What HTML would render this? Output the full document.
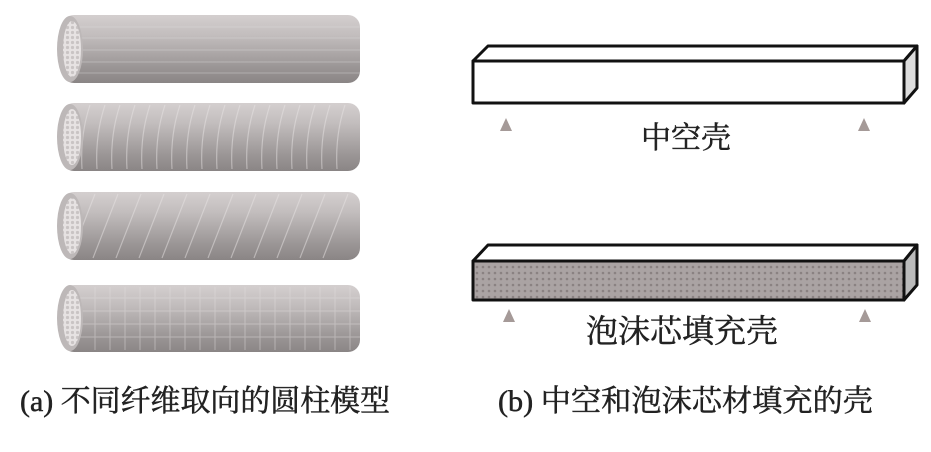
<!DOCTYPE html>
<html><head><meta charset="utf-8"><style>
body{margin:0;background:#fff;width:931px;height:452px;overflow:hidden}
svg{display:block}
text{font-family:"Liberation Serif","Noto Serif CJK SC",serif;fill:#222;font-weight:normal;stroke:#222;stroke-width:0.5}
</style></head><body>
<svg width="931" height="452" viewBox="0 0 931 452" xmlns="http://www.w3.org/2000/svg">
<defs>
<linearGradient id="cg" x1="0" y1="0" x2="0" y2="1">
<stop offset="0" stop-color="#d4cfcf"/><stop offset="0.3" stop-color="#c2bdbd"/><stop offset="0.75" stop-color="#9c9797"/><stop offset="1" stop-color="#8a8585"/>
</linearGradient>
<pattern id="dots" width="6" height="6" patternUnits="userSpaceOnUse">
<rect width="6" height="6" fill="#aaa3a3"/><circle cx="3" cy="3" r="1.3" fill="#8a8282"/>
</pattern>
<pattern id="end" width="5" height="5" patternUnits="userSpaceOnUse">
<rect width="5" height="5" fill="#e6e2e2"/><circle cx="2.5" cy="2.5" r="1.6" fill="#c9c4c4"/>
</pattern>
</defs>
<g>
<rect x="62" y="15" width="298" height="68" rx="12" fill="url(#cg)"/>
<g stroke="#ddd" stroke-width="1" opacity="0.4"><line x1="75" y1="27" x2="360" y2="27"/><line x1="75" y1="38" x2="360" y2="38"/><line x1="75" y1="50" x2="360" y2="50"/><line x1="75" y1="62" x2="360" y2="62"/><line x1="75" y1="73" x2="360" y2="73"/></g>
<ellipse cx="70" cy="49" rx="13" ry="33" fill="#bdb8b8"/><ellipse cx="72" cy="49" rx="9" ry="28" fill="url(#end)"/>
</g>
<g>
<rect x="62" y="103" width="298" height="68" rx="12" fill="url(#cg)"/>
<g stroke="#e8e4e4" stroke-width="1.2" fill="none" opacity="0.5">
<path d="M90 105 q-10 30 -8 64M105 105 q-10 30 -8 64M120 105 q-10 30 -8 64M135 105 q-10 30 -8 64M150 105 q-10 30 -8 64M165 105 q-10 30 -8 64M180 105 q-10 30 -8 64M195 105 q-10 30 -8 64M210 105 q-10 30 -8 64M225 105 q-10 30 -8 64M240 105 q-10 30 -8 64M255 105 q-10 30 -8 64M270 105 q-10 30 -8 64M285 105 q-10 30 -8 64M300 105 q-10 30 -8 64M315 105 q-10 30 -8 64M330 105 q-10 30 -8 64M345 105 q-10 30 -8 64"/></g>
<ellipse cx="70" cy="137" rx="13" ry="33" fill="#bdb8b8"/><ellipse cx="72" cy="137" rx="9" ry="28" fill="url(#end)"/>
</g>
<g>
<rect x="62" y="192" width="298" height="68" rx="12" fill="url(#cg)"/>
<g stroke="#e8e4e4" stroke-width="1.2" fill="none" opacity="0.5">
<path d="M95 194 l-25 64M118 194 l-25 64M141 194 l-25 64M164 194 l-25 64M187 194 l-25 64M210 194 l-25 64M233 194 l-25 64M256 194 l-25 64M279 194 l-25 64M302 194 l-25 64M325 194 l-25 64M348 194 l-25 64"/></g>
<ellipse cx="70" cy="226" rx="13" ry="33" fill="#bdb8b8"/><ellipse cx="72" cy="226" rx="9" ry="28" fill="url(#end)"/>
</g>
<g>
<rect x="62" y="285" width="298" height="67" rx="12" fill="url(#cg)"/>
<g stroke="#e2dede" stroke-width="1" fill="none" opacity="0.45">
<path d="M75 298 H360M75 311 H360M75 324 H360M75 337 H360"/>
<path d="M95 287v63M110 287v63M125 287v63M140 287v63M155 287v63M170 287v63M185 287v63M200 287v63M215 287v63M230 287v63M245 287v63M260 287v63M275 287v63M290 287v63M305 287v63M320 287v63M335 287v63M350 287v63"/></g>
<ellipse cx="70" cy="318" rx="13" ry="33" fill="#bdb8b8"/><ellipse cx="72" cy="318" rx="9" ry="28" fill="url(#end)"/>
</g>
<g stroke="#111" stroke-width="3" stroke-linejoin="round">
<path d="M473 61 L488 46 L917 46 L904 61 Z" fill="#fff"/>
<path d="M904 61 L917 46 L917 88 L904 103 Z" fill="#ddd"/>
<rect x="473" y="61" width="431" height="42" fill="#fff"/>
</g>
<g stroke="#111" stroke-width="3" stroke-linejoin="round">
<path d="M473 261 L488 245 L917 245 L904 261 Z" fill="#fff"/>
<path d="M904 261 L917 245 L917 285 L904 300 Z" fill="#bbb"/>
<rect x="473" y="261" width="431" height="39" fill="url(#dots)"/>
</g>
<g fill="#a59a98">
<polygon points="506,118 500,131 512,131"/><polygon points="864,118 858,131 870,131"/>
<polygon points="509,309 503,322 515,322"/><polygon points="865,309 859,322 871,322"/>
</g>
<text x="686" y="148" font-size="30" text-anchor="middle">中空壳</text>
<text x="682" y="342" font-size="32" text-anchor="middle">泡沫芯填充壳</text>
<text x="20" y="411" font-size="30" textLength="370" lengthAdjust="spacingAndGlyphs">(a) 不同纤维取向的圆柱模型</text>
<text x="498" y="411" font-size="30" textLength="375" lengthAdjust="spacingAndGlyphs">(b) 中空和泡沫芯材填充的壳</text>
</svg>
</body></html>
